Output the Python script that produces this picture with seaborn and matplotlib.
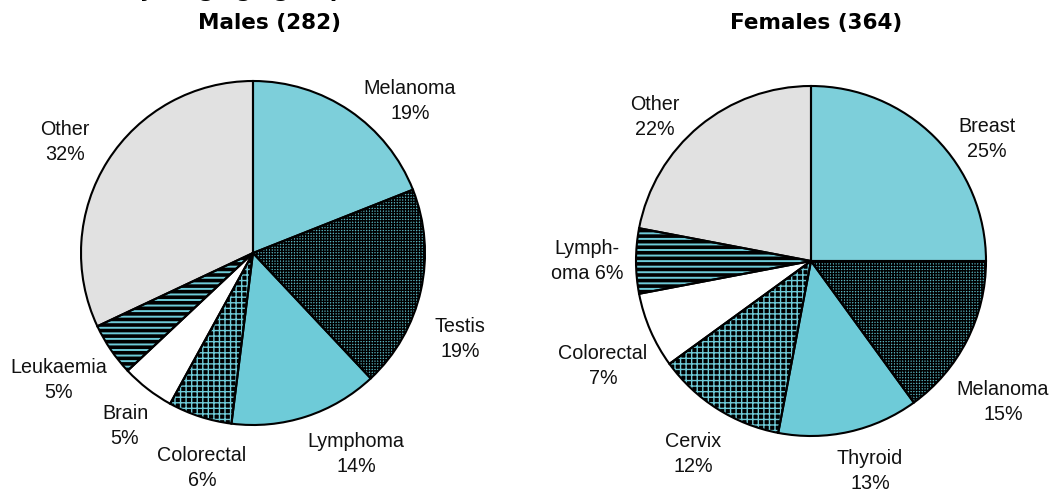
import matplotlib
matplotlib.use("Agg")
import matplotlib.pyplot as plt
import seaborn as sns

sns.set_theme(style="white")
plt.rcParams['font.family'] = ['Liberation Sans', 'DejaVu Sans']

# ---- data ----
male_sites = ["Melanoma", "Testis", "Lymphoma", "Colorectal", "Brain", "Leukaemia", "Other"]
male_pct = [19, 19, 14, 6, 5, 5, 32]
female_sites = ["Breast", "Melanoma", "Thyroid", "Cervix", "Colorectal", "Lymph-\noma", "Other"]
female_pct = [25, 15, 13, 12, 7, 6, 22]
male_title = "Males (282)"
female_title = "Females (364)"
top_title = "Most common cancers in the young age group"

# ---- styles ----
TEAL_L = "#7DCFDA"
TEAL = "#6ECBD8"
GREY = "#E1E1E1"
# (face, hatch, hatch colour, hatch linewidth)
male_styles = [
    (TEAL_L, None, None, 0),
    ("#58B4C0", "++++++", "#000000", 1.0),
    (TEAL, None, None, 0),
    ("#000000", "+++", TEAL, 1.0),
    ("#FFFFFF", None, None, 0),
    (TEAL, "---", "#000000", 2.6),
    (GREY, None, None, 0),
]
female_styles = [
    (TEAL_L, None, None, 0),
    ("#58B4C0", "++++++", "#000000", 1.0),
    (TEAL, None, None, 0),
    ("#000000", "+++", TEAL, 1.0),
    ("#FFFFFF", None, None, 0),
    (TEAL, "---", "#000000", 2.6),
    (GREY, None, None, 0),
]

W, H = 1053, 492
fig = plt.figure(figsize=(W / 100, H / 100), dpi=100)
ax = fig.add_axes([0, 0, 1, 1])

def draw_pie(vals, styles, center, radius):
    wedges, _ = ax.pie(vals, startangle=90, counterclock=False, center=center,
                       radius=radius, colors=[s[0] for s in styles],
                       wedgeprops=dict(linewidth=0, edgecolor="black"))
    for w, (fc, hatch, hc, hlw) in zip(wedges, styles):
        if hatch:
            w.set_hatch(hatch)
            w.set_edgecolor(hc)
            if hasattr(w, "set_hatchcolor"):
                w.set_hatchcolor(hc)
            w.set_linewidth(0)
            if hasattr(w, "set_hatch_linewidth"):
                w.set_hatch_linewidth(hlw)
    # outlines
    ax.pie(vals, startangle=90, counterclock=False, center=center, radius=radius,
           colors=["none"] * len(vals),
           wedgeprops=dict(linewidth=1.5, edgecolor="black", facecolor="none"))

m_center = (253, H - 253)
f_center = (811, H - 261)
draw_pie(male_pct, male_styles, m_center, 172)
draw_pie(female_pct, female_styles, f_center, 175)

# label layout (pixel positions from top-left)
male_label_pos = [(410, 101), (460, 339), (356, 454), (202, 468), (125, 426), (59, 380), (65, 142)]
female_label_pos = [(987, 139), (1003, 402), (870, 471), (693, 454), (603, 366), (587, 261), (655, 117)]

def labels(sites, pct, pos):
    for s, p, (x, y) in zip(sites, pct, pos):
        if "\n" in s:
            txt = f"{s} {p}%"
        else:
            txt = f"{s}\n{p}%"
        ax.text(x, H - y, txt, ha="center", va="center", fontsize=14.2,
                linespacing=1.45, color="#111111")

labels(male_sites, male_pct, male_label_pos)
labels(female_sites, female_pct, female_label_pos)

ax.text(269, H - 23, male_title, ha="center", va="center", fontsize=15.5,
        fontweight="bold", family="DejaVu Sans", color="black")
ax.text(816, H - 23, female_title, ha="center", va="center", fontsize=15.5,
        fontweight="bold", family="DejaVu Sans", color="black")
ax.text(345, H + 3, top_title, ha="right", va="baseline", fontsize=15.5,
        fontweight="bold", family="DejaVu Sans", color="black")

ax.set_xlim(0, W)
ax.set_ylim(0, H)
ax.set_aspect("auto")
ax.axis("off")

fig.savefig("out.png", dpi=100)
